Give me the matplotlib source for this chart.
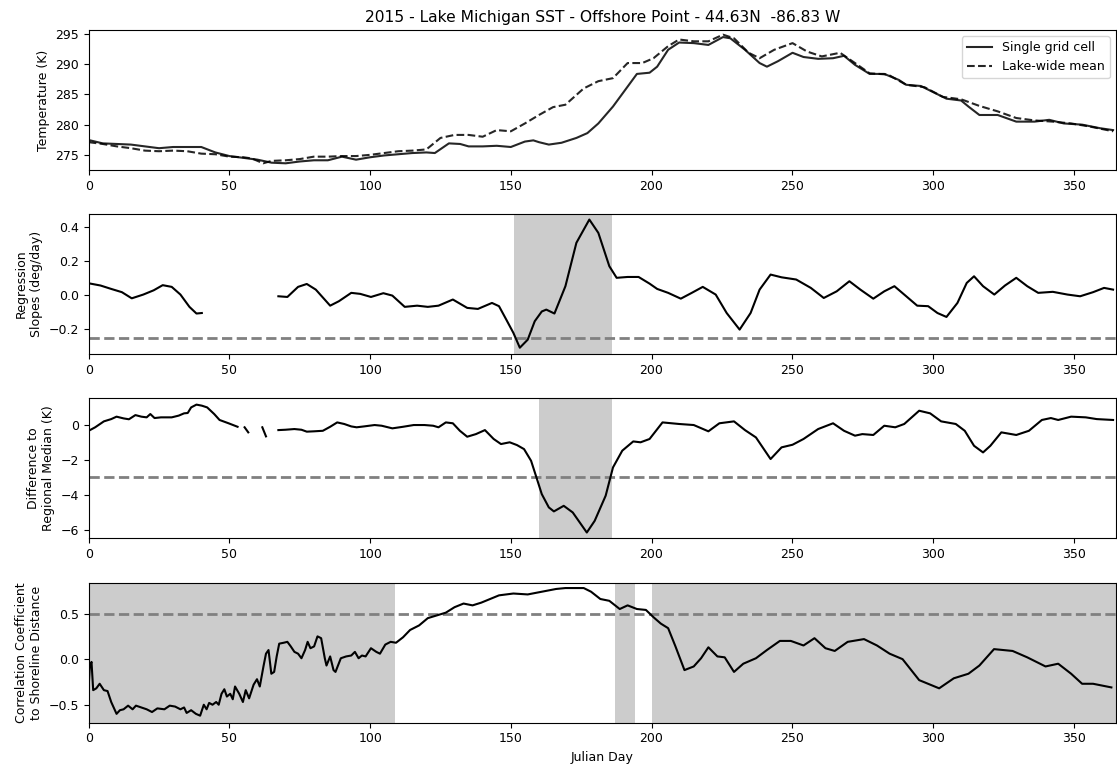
import numpy as np
import matplotlib
matplotlib.use("Agg")
from matplotlib import pyplot as plt

nan = np.nan

# Panel 1: SST at the offshore grid cell and the lake-wide mean (K)
cell_day = [0, 0.5, 5, 10, 15, 20, 25, 30, 35, 40, 45, 50, 55, 60, 65, 70, 75, 80, 85, 90,
            95, 100, 105, 110, 115, 120, 123, 128, 132, 135, 140, 145, 150, 155, 158, 160,
            163.5, 168, 173.3, 177.2, 181.1, 186.3, 191.5, 194.8, 199.3, 202, 205.9, 209.8,
            215, 220.2, 225.4, 228, 233.2, 238.4, 241, 244.9, 250.1, 254, 259.2, 264.5,
            268.4, 272.3, 277.5, 282.7, 287.9, 290.5, 295.7, 300.9, 304.8, 310, 312.6,
            316.5, 323, 329.6, 336.1, 341.3, 346.5, 353, 359.5, 364]
cell_temp = [277.0, 277.4, 276.9, 276.8, 276.7, 276.4, 276.1, 276.3, 276.3, 276.3, 275.4,
             274.8, 274.5, 274.2, 273.7, 273.6, 273.9, 274.1, 274.1, 274.7, 274.2, 274.6,
             274.9, 275.1, 275.3, 275.4, 275.3, 276.9, 276.8, 276.4, 276.4, 276.5, 276.3,
             277.2, 277.4, 277.1, 276.7, 277.0, 277.8, 278.6, 280.2, 283.0, 286.3, 288.4,
             288.6, 289.6, 292.4, 293.6, 293.5, 293.2, 294.5, 294.3, 292.4, 290.2, 289.6,
             290.5, 291.9, 291.2, 290.9, 291.0, 291.4, 289.9, 288.4, 288.4, 287.4, 286.6,
             286.4, 285.2, 284.3, 284.0, 283.0, 281.6, 281.6, 280.5, 280.5, 280.8, 280.2,
             280.0, 279.4, 279.1]
mean_day = [0, 5, 10, 15, 20, 25, 30, 35, 40, 45, 50, 55, 58, 62, 65, 70, 75, 80, 85, 90,
            95, 100, 105, 110, 115, 120, 125, 130, 135, 140, 145, 150, 155, 160, 165, 169.4,
            175.9, 181.1, 186.3, 191.5, 196.7, 200.7, 205.9, 209.8, 215, 220.2, 225.4,
            229.3, 234.5, 238.4, 243.6, 250.1, 255.3, 260.5, 267, 272.3, 277.5, 284, 290.5,
            297, 303.5, 310, 316.5, 323, 329.6, 336.1, 342.6, 349.1, 355.6, 364]
mean_temp = [277.1, 276.8, 276.4, 276.1, 275.7, 275.6, 275.7, 275.6, 275.2, 275.1, 274.7,
             274.6, 274.4, 273.6, 274.0, 274.1, 274.3, 274.7, 274.7, 274.8, 274.8, 275.0,
             275.3, 275.6, 275.7, 275.9, 277.8, 278.3, 278.3, 278.0, 279.1, 278.9, 280.2,
             281.6, 282.9, 283.3, 286.0, 287.2, 287.7, 290.2, 290.2, 291.0, 293.0, 294.1,
             293.8, 293.8, 294.9, 294.3, 291.9, 291.0, 292.4, 293.5, 292.1, 291.3, 291.9,
             290.2, 288.5, 288.3, 286.6, 286.2, 284.6, 284.2, 283.1, 282.2, 281.1, 280.7,
             280.5, 280.2, 279.7, 278.9]

# Panel 2: regression slopes (deg/day), NaN marks missing days
slope_day = [0, 4.2, 8, 11.8, 15.3, 19.4, 23.1, 26.3, 29.5, 32.6, 35.8, 38.3, 40.2, 54,
             67.4, 70.6, 74.4, 77.5, 80.7, 85.8, 88.9, 93.3, 96.5, 100.3, 104.7, 107.9,
             112.3, 116.7, 120.5, 124.3, 129.4, 134.5, 138.3, 143.3, 145.8, 148.4, 150.9,
             153.2, 156, 158.5, 161, 162.6, 165.5, 169.4, 173.3, 177.9, 181.1, 185, 187.6,
             191.5, 195.4, 199.3, 202, 205.9, 210.4, 214.3, 218.2, 222.8, 226.7, 231.3,
             235.2, 238.4, 242.3, 246.2, 251.4, 256.6, 261.2, 265.8, 270.3, 274.2, 278.8,
             282.7, 286.3, 290.5, 294.4, 298.3, 301.6, 304.8, 308.7, 312, 314.6, 317.8,
             321.8, 325.6, 329.6, 333.5, 337.4, 342.6, 347.8, 352.3, 356.9, 360.8, 364]
slope_val = [0.070, 0.057, 0.037, 0.018, -0.018, 0.004, 0.029, 0.059, 0.049, 0.004, -0.068,
             -0.107, -0.104, nan, -0.006, -0.010, 0.049, 0.066, 0.033, -0.061, -0.035, 0.014,
             0.008, -0.010, 0.012, -0.002, -0.068, -0.061, -0.068, -0.061, -0.025, -0.074,
             -0.080, -0.045, -0.064, -0.143, -0.220, -0.307, -0.260, -0.152, -0.095, -0.084,
             -0.107, 0.053, 0.307, 0.443, 0.365, 0.170, 0.102, 0.107, 0.107, 0.068, 0.037,
             0.014, -0.020, 0.014, 0.049, 0.004, -0.104, -0.201, -0.104, 0.033, 0.121,
             0.105, 0.092, 0.043, -0.016, 0.023, 0.082, 0.033, -0.020, 0.023, 0.053, -0.006,
             -0.061, -0.064, -0.104, -0.127, -0.045, 0.072, 0.111, 0.053, 0.004, 0.057,
             0.102, 0.053, 0.014, 0.020, 0.004, -0.006, 0.018, 0.043, 0.033]

# Panel 3: difference to the regional median (K)
diff_day = [0, 2.3, 5.4, 8, 9.9, 12.4, 14.3, 16.6, 18.7, 20.6, 21.9, 23.4, 25.7, 29.5, 32,
            33.9, 35.2, 36.4, 38.3, 40.2, 42.1, 44.6, 46.5, 49.7, 52.9, 54, 55.4, 56.7, 59,
            61.7, 63, 65, 67.4, 69.9, 73.1, 75.6, 77.5, 80.1, 83.2, 85.8, 88.3, 90.8, 93.3,
            95.2, 97.8, 101.6, 104.1, 107.9, 111.7, 115.5, 119.3, 122.4, 124.3, 126.9,
            129.4, 131.9, 134.5, 137.6, 140.8, 143.9, 146.5, 149.6, 152.2, 154.7, 157.2,
            159.1, 161, 163.5, 165.3, 168.8, 172, 177, 179.8, 183.7, 186.3, 189.6, 193.5,
            196.1, 199.3, 203.9, 209.8, 215, 220.2, 224.1, 229.3, 233.2, 237.1, 242.3,
            246.2, 250.1, 254, 259.2, 264.5, 268.4, 272.3, 274.9, 278.8, 282.7, 286.6,
            289.8, 295.1, 299, 302.9, 308.1, 311.3, 314.6, 317.8, 320.4, 324.3, 329.6,
            334.1, 338.7, 341.9, 344.5, 349.1, 354.3, 358.2, 364]
diff_val = [-0.33, -0.13, 0.21, 0.34, 0.48, 0.38, 0.33, 0.57, 0.48, 0.44, 0.63, 0.40, 0.44,
            0.44, 0.54, 0.67, 0.69, 1.01, 1.17, 1.11, 1.01, 0.63, 0.29, 0.10, -0.10, nan,
            -0.13, -0.42, nan, -0.13, -0.65, nan, -0.29, -0.27, -0.23, -0.27, -0.38, -0.36,
            -0.33, -0.10, 0.15, 0.06, -0.08, -0.13, -0.08, 0.00, -0.04, -0.19, -0.10, 0.00,
            0.00, -0.04, -0.13, 0.15, 0.10, -0.33, -0.67, -0.52, -0.29, -0.80, -1.09, -0.99,
            -1.15, -1.38, -2.05, -3.00, -3.96, -4.72, -4.95, -4.63, -5.01, -6.16, -5.49,
            -4.05, -2.43, -1.47, -0.94, -0.99, -0.80, 0.15, 0.06, 0.00, -0.36, 0.10, 0.21,
            -0.29, -0.71, -1.95, -1.28, -1.13, -0.80, -0.23, 0.10, -0.33, -0.61, -0.52,
            -0.57, -0.04, -0.13, 0.06, 0.82, 0.67, 0.21, 0.06, -0.33, -1.19, -1.57, -1.19,
            -0.42, -0.57, -0.33, 0.29, 0.40, 0.29, 0.48, 0.44, 0.34, 0.29]

# Panel 4: correlation coefficient to shoreline distance
corr_day = [0, 0.4, 1, 1.6, 2.7, 3.9, 5.4, 6.7, 8, 9.9, 11.1, 12.4, 14, 15.6, 16.8, 18.7,
            20.6, 22.5, 24.4, 26.9, 28.8, 30.7, 32.6, 33.9, 34.8, 36.4, 38.1, 39.6, 40.9,
            41.9, 42.8, 44, 45.3, 46.2, 47.2, 48.2, 49.1, 50.3, 51.2, 52, 53.5, 54.8, 55.8,
            57, 58.6, 59.8, 60.8, 62.1, 63, 63.9, 64.9, 65.9, 66.8, 67.7, 69.3, 70.6, 71.8,
            73.1, 74.4, 75.6, 76.9, 77.8, 78.8, 80.1, 81.3, 82.6, 83.9, 84.5, 85.8, 87,
            87.7, 89.6, 91.5, 93.3, 94.6, 95.9, 97.1, 98.4, 100.3, 102.2, 103.5, 105.4,
            107.3, 109.2, 111.7, 114.2, 117.4, 120.5, 123.7, 126.9, 130, 133.2, 136.4,
            139.5, 142.7, 145.8, 150.9, 156, 161, 166.1, 169.4, 175.9, 178.5, 181.8, 185,
            188.7, 191.5, 194.8, 198, 200.7, 203.3, 205.9, 208.5, 211.7, 215, 217.6, 220.2,
            223.4, 226, 229.3, 232.6, 237.1, 241, 245.6, 249.5, 254, 257.9, 261.8, 265.1,
            269.7, 275.5, 280.1, 284.6, 289.2, 295.1, 298.3, 302.2, 307.4, 312.6, 316.5,
            321.7, 328.3, 333.5, 340, 344.5, 349.1, 353, 356.9, 363.4]
corr_val = [-0.30, -0.08, -0.03, -0.34, -0.32, -0.27, -0.34, -0.35, -0.47, -0.60, -0.56,
            -0.55, -0.51, -0.55, -0.51, -0.53, -0.55, -0.58, -0.54, -0.55, -0.51, -0.52,
            -0.55, -0.53, -0.59, -0.56, -0.60, -0.62, -0.50, -0.55, -0.48, -0.50, -0.47,
            -0.50, -0.38, -0.33, -0.41, -0.38, -0.44, -0.30, -0.38, -0.47, -0.34, -0.43,
            -0.28, -0.22, -0.30, -0.08, 0.06, 0.10, -0.16, -0.14, 0.03, 0.17, 0.18, 0.19,
            0.14, 0.08, 0.06, 0.01, 0.10, 0.19, 0.12, 0.14, 0.25, 0.23, 0.01, -0.07, 0.03,
            -0.12, -0.14, 0.01, 0.03, 0.04, 0.08, 0.01, 0.04, 0.03, 0.12, 0.08, 0.06, 0.16,
            0.19, 0.18, 0.24, 0.32, 0.37, 0.45, 0.48, 0.51, 0.57, 0.61, 0.59, 0.62, 0.66,
            0.70, 0.72, 0.71, 0.74, 0.77, 0.78, 0.78, 0.74, 0.66, 0.64, 0.55, 0.59, 0.55,
            0.54, 0.46, 0.39, 0.34, 0.14, -0.12, -0.08, 0.01, 0.13, 0.03, 0.02, -0.14,
            -0.05, 0.01, 0.10, 0.20, 0.20, 0.15, 0.23, 0.12, 0.09, 0.19, 0.22, 0.15, 0.06,
            0.00, -0.23, -0.27, -0.32, -0.21, -0.16, -0.07, 0.11, 0.09, 0.02, -0.08, -0.05,
            -0.16, -0.27, -0.27, -0.31]

# flagged periods and thresholds
slope_flag = [(151, 186)]
diff_flag = [(160, 186)]
corr_flag = [(0, 109), (187, 194), (200, 365)]
slope_thresh = -0.25
diff_thresh = -3.0
corr_thresh = 0.5

title = "2015 - Lake Michigan SST - Offshore Point - 44.63N  -86.83 W"

plt.rcParams["font.size"] = 9

fig, axes = plt.subplots(4, 1, figsize=(11.17, 7.65), dpi=100)
fig.subplots_adjust(left=0.0794, right=0.999, top=0.961, bottom=0.0553, hspace=0.315)

ax = axes[0]
ax.plot(cell_day, cell_temp, color="k", lw=1.5, alpha=0.85, label="Single grid cell")
ax.plot(mean_day, mean_temp, color="k", lw=1.5, ls="--", alpha=0.85, label="Lake-wide mean")
ax.set_ylim(272.5, 295.7)
ax.set_yticks([275, 280, 285, 290, 295])
ax.set_ylabel("Temperature (K)")
ax.set_title(title, fontsize=11.2)
ax.legend(loc="upper right")


def flagged_panel(ax, days, vals, spans, thresh, ylim, ylabel):
    for x0, x1 in spans:
        ax.axvspan(x0, x1, color="grey", alpha=0.4, lw=0, zorder=0)
    ax.axhline(thresh, color="grey", lw=2, ls="--", zorder=1)
    ax.plot(days, vals, color="k", lw=1.5, zorder=2)
    ax.set_ylim(*ylim)
    ax.set_ylabel(ylabel)


flagged_panel(axes[1], slope_day, slope_val, slope_flag, slope_thresh,
              (-0.345, 0.475), "Regression\nSlopes (deg/day)")
axes[1].set_yticks([-0.2, 0.0, 0.2, 0.4])
flagged_panel(axes[2], diff_day, diff_val, diff_flag, diff_thresh,
              (-6.5, 1.53), "Difference to\nRegional Median (K)")
axes[2].set_yticks([-6, -4, -2, 0])
flagged_panel(axes[3], corr_day, corr_val, corr_flag, corr_thresh,
              (-0.697, 0.84), "Correlation Coefficient\nto Shoreline Distance")
axes[3].set_yticks([-0.5, 0.0, 0.5])
axes[3].set_xlabel("Julian Day")

for ax in axes:
    ax.set_xlim(0, 365)
    ax.set_xticks(range(0, 351, 50))

fig.savefig("out.png", dpi=100)
